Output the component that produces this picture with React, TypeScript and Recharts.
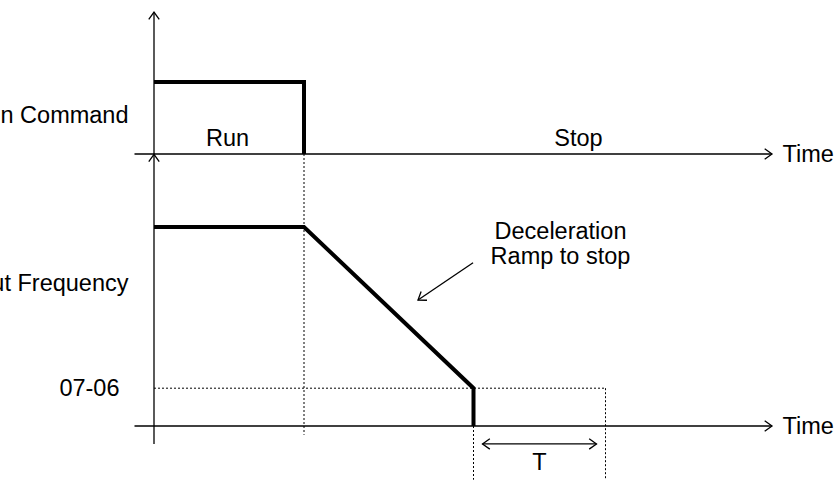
import React from "react";
import { ComposedChart, Line, XAxis, YAxis, ReferenceLine, ReferenceDot } from "recharts";

// time in s, run command 0/1, output frequency in % of max
const runCommand = [
  { t: 0, run: 1 },
  { t: 1, run: 1 },
  { t: 1, run: 0 },
];
const outputFreq = [
  { t: 0, freq: 100 },
  { t: 1, freq: 100 },
  { t: 2.13, freq: 19 },
  { t: 2.13, freq: 0 },
];
const stopTime = 1;
const rampEnd = 2.13;
const holdEnd = 3.01; // end of T
const level0706 = 19;
const timeAxisRange = [-0.13, 4.12];

const runLabels = [
  { t: -0.17, y: 0.54, text: "Run Command", anchor: "end" },
  { t: 0.49, y: 0.22, text: "Run", anchor: "middle" },
  { t: 2.83, y: 0.22, text: "Stop", anchor: "middle" },
  { t: 4.19, y: 0, text: "Time", anchor: "start" },
];
const freqLabels = [
  { t: -0.17, y: 72, text: "Output Frequency", anchor: "end" },
  { t: -0.23, y: 19, text: "07-06", anchor: "end" },
  { t: 2.71, y: 98, text: "Deceleration", anchor: "middle" },
  { t: 2.71, y: 85.5, text: "Ramp to stop", anchor: "middle" },
  { t: 4.19, y: 0, text: "Time", anchor: "start" },
  { t: 2.57, y: -18, text: "T", anchor: "middle" },
];

// pixel calibration of the drawing
const W = 840;
const H = 482;
const T0_X = 154;
const PX_PER_S = 150;
const RUN0_Y = 154;
const PX_PER_RUN = 72;
const FREQ0_Y = 426;
const PX_PER_PCT = 1.99;

const xDomain = [-T0_X / PX_PER_S, (W - T0_X) / PX_PER_S];
const runDomain = [-(H - RUN0_Y) / PX_PER_RUN, RUN0_Y / PX_PER_RUN];
const freqDomain = [-(H - FREQ0_Y) / PX_PER_PCT, FREQ0_Y / PX_PER_PCT];

const FONT = "'Liberation Sans', Arial, sans-serif";

function head(x: number, y: number, ang: number) {
  const len = 9;
  const spread = 0.62;
  const a1 = ang + Math.PI - spread;
  const a2 = ang + Math.PI + spread;
  return `M${x + len * Math.cos(a1)},${y + len * Math.sin(a1)} L${x},${y} L${x + len * Math.cos(a2)},${y + len * Math.sin(a2)}`;
}

function Arrow(props: any) {
  const { x1, y1, x2, y2, both } = props;
  const ang = Math.atan2(y2 - y1, x2 - x1);
  return (
    <g>
      <line x1={x1} y1={y1} x2={x2} y2={y2} stroke="#000" strokeWidth={1.3} />
      <path d={head(x2, y2, ang)} fill="none" stroke="#000" strokeWidth={1.3} />
      {both && <path d={head(x1, y1, ang + Math.PI)} fill="none" stroke="#000" strokeWidth={1.3} />}
    </g>
  );
}

function label(l: any, axis: string, i: number) {
  return (
    <ReferenceDot
      key={axis + i}
      x={l.t}
      y={l.y}
      yAxisId={axis}
      shape={(p: any) => (
        <text
          x={p.cx}
          y={p.cy}
          textAnchor={l.anchor}
          dominantBaseline="central"
          fontFamily={FONT}
          fontSize={23.5}
          fill="#000"
        >
          {l.text}
        </text>
      )}
    />
  );
}

const dotted = { stroke: "#000", strokeWidth: 1, strokeDasharray: "2 2" };

export default function App() {
  return (
    <div style={{ position: "absolute", left: 0, top: 0, background: "#fff" }}>
      <ComposedChart width={W} height={H} margin={{ top: 0, right: 0, bottom: 0, left: 0 }}>
        <XAxis type="number" dataKey="t" domain={xDomain} allowDataOverflow hide />
        <YAxis yAxisId="run" type="number" domain={runDomain} allowDataOverflow hide />
        <YAxis yAxisId="freq" type="number" domain={freqDomain} allowDataOverflow hide />

        {/* dotted guides */}
        <ReferenceLine yAxisId="run" segment={[{ x: stopTime, y: 0 }, { x: stopTime, y: -3.9 }]} {...dotted} />
        <ReferenceLine yAxisId="freq" segment={[{ x: 0, y: level0706 }, { x: holdEnd, y: level0706 }]} {...dotted} />
        <ReferenceLine yAxisId="freq" segment={[{ x: rampEnd, y: 0 }, { x: rampEnd, y: -27 }]} {...dotted} />
        <ReferenceLine yAxisId="freq" segment={[{ x: holdEnd, y: level0706 }, { x: holdEnd, y: -27 }]} {...dotted} />

        {/* axes */}
        <ReferenceLine yAxisId="run" segment={[{ x: 0, y: 0 }, { x: 0, y: 1.97 }]} shape={Arrow} />
        <ReferenceLine yAxisId="freq" segment={[{ x: 0, y: -9 }, { x: 0, y: 136.5 }]} shape={Arrow} />
        <ReferenceLine yAxisId="run" segment={[{ x: timeAxisRange[0], y: 0 }, { x: timeAxisRange[1], y: 0 }]} shape={Arrow} />
        <ReferenceLine yAxisId="freq" segment={[{ x: timeAxisRange[0], y: 0 }, { x: timeAxisRange[1], y: 0 }]} shape={Arrow} />

        {/* T span and annotation arrow */}
        <ReferenceLine
          yAxisId="freq"
          segment={[{ x: 2.19, y: -9 }, { x: 2.95, y: -9 }]}
          shape={(p: any) => <Arrow {...p} both />}
        />
        <ReferenceLine yAxisId="freq" segment={[{ x: 2.127, y: 82 }, { x: 1.76, y: 63.3 }]} shape={Arrow} />

        <Line
          yAxisId="run"
          data={runCommand}
          dataKey="run"
          type="linear"
          stroke="#000"
          strokeWidth={4}
          dot={false}
          activeDot={false}
          isAnimationActive={false}
        />
        <Line
          yAxisId="freq"
          data={outputFreq}
          dataKey="freq"
          type="linear"
          stroke="#000"
          strokeWidth={4}
          dot={false}
          activeDot={false}
          isAnimationActive={false}
        />

        {runLabels.map((l, i) => label(l, "run", i))}
        {freqLabels.map((l, i) => label(l, "freq", i))}
      </ComposedChart>
    </div>
  );
}
